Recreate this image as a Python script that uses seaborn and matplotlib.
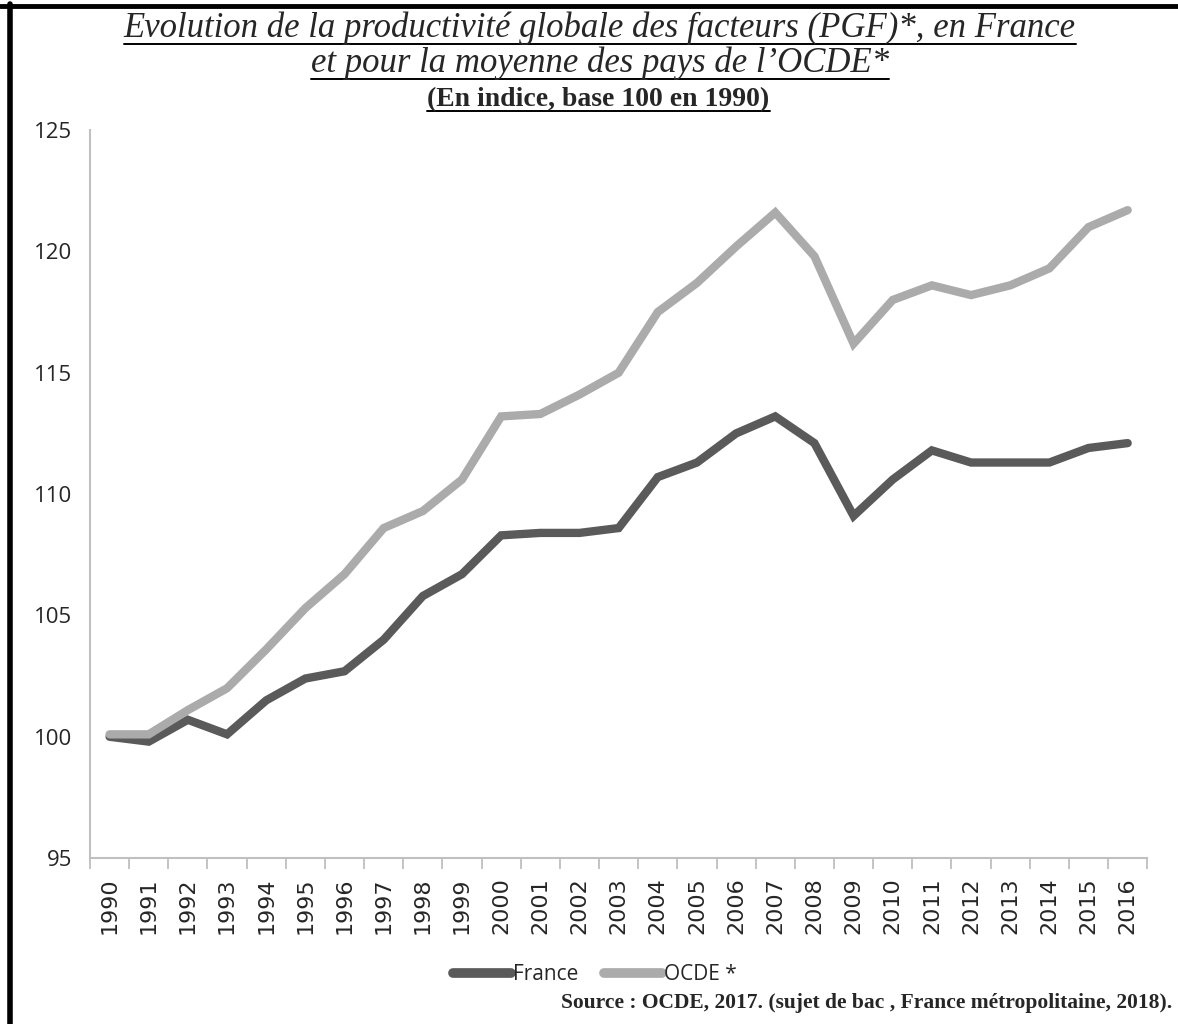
"""
Evolution de la PGF en France et pour la moyenne OCDE (base 100 en 1990).
"""

import numpy as np
import pandas as pd
import matplotlib

matplotlib.use("Agg")
import matplotlib.pyplot as plt
from matplotlib.lines import Line2D
import seaborn as sns

years = list(range(1990, 2017))
france = [100.0, 99.8, 100.7, 100.1, 101.5, 102.4, 102.7, 104.0, 105.8, 106.7,
          108.3, 108.4, 108.4, 108.6, 110.7, 111.3, 112.5, 113.2, 112.1, 109.1,
          110.6, 111.8, 111.3, 111.3, 111.3, 111.9, 112.1]
ocde = [100.1, 100.1, 101.1, 102.0, 103.6, 105.3, 106.7, 108.6, 109.3, 110.6,
        113.2, 113.3, 114.1, 115.0, 117.5, 118.7, 120.2, 121.6, 119.8, 116.2,
        118.0, 118.6, 118.2, 118.6, 119.3, 121.0, 121.7]
series_names = ["France", "OCDE *"]
series_colors = ["#5a5a5a", "#ababab"]
y_ticks = [95, 100, 105, 110, 115, 120, 125]

title_1 = "Evolution de la productivité globale des facteurs (PGF)*, en France"
title_2 = "et pour la moyenne des pays de l\u2019OCDE*"
title_3 = "(En indice, base 100 en 1990)"
source = "Source : OCDE, 2017. (sujet de bac , France métropolitaine, 2018)."

df = pd.DataFrame({
    "annee": years * 2,
    "indice": france + ocde,
    "serie": [series_names[0]] * len(years) + [series_names[1]] * len(years),
})

sns.set_style("white")
plt.rcParams["font.family"] = ["Open Sans", "DejaVu Sans"]

fig = plt.figure(figsize=(11.78, 10.24), dpi=100)
ax = fig.add_axes([0.0764, 0.162, 0.8975, 0.711])

sns.lineplot(
    data=df, x="annee", y="indice", hue="serie",
    hue_order=series_names, palette=dict(zip(series_names, series_colors)),
    linewidth=6, ax=ax, legend=False,
)
for ln in ax.lines:
    ln.set_solid_capstyle("round")
    ln.set_solid_joinstyle("miter")

ax.set_xlim(years[0] - 0.5, years[-1] + 0.5)
ax.set_ylim(y_ticks[0], y_ticks[-1])
ax.set_yticks(y_ticks)
ax.set_yticklabels([str(v) for v in y_ticks], fontsize=16)
ax.set_xticks(years)
ax.set_xticklabels([str(y) for y in years], rotation=90, fontsize=16,
                   family="DejaVu Sans")
ax.set_xticks(np.arange(years[0] - 0.5, years[-1] + 1), minor=True)
ax.tick_params(axis="x", which="major", length=0, pad=14)
ax.tick_params(axis="x", which="minor", length=8, color="#bfbfbf", width=1.3,
               direction="out", bottom=True)
ax.tick_params(axis="y", length=0, pad=13)
ax.set_xlabel("")
ax.set_ylabel("")
sns.despine(ax=ax)
for side in ["left", "bottom"]:
    ax.spines[side].set_color("#c0c0c0")
    ax.spines[side].set_linewidth(1.5)

# legend below the chart
handles = [Line2D([0], [0], color=c, lw=7, solid_capstyle="round")
           for c in series_colors]
fig.legend(handles, series_names, loc="center", bbox_to_anchor=(0.505, 0.048),
           ncol=2, frameon=False, fontsize=15, handlelength=2.8,
           handletextpad=0.1, columnspacing=1.2)

# titles, underlined
serif = ["Liberation Serif", "DejaVu Serif"]
t1 = fig.text(0.509, 0.972, title_1, ha="center", va="center", fontsize=25,
              style="italic", family=serif)
t2 = fig.text(0.509, 0.938, title_2, ha="center", va="center", fontsize=25,
              style="italic", family=serif)
t3 = fig.text(0.508, 0.903, title_3, ha="center", va="center", fontsize=20,
              weight="bold", family=serif)
fig.text(0.995, 0.0205, source, ha="right", va="center", fontsize=15.5,
         weight="bold", family=serif)

fig.canvas.draw()
renderer = fig.canvas.get_renderer()
for t in [t1, t2, t3]:
    bb = t.get_window_extent(renderer).transformed(fig.transFigure.inverted())
    y_line = bb.y0 + 0.001
    fig.add_artist(Line2D([bb.x0, bb.x1], [y_line, y_line], color="black",
                          lw=1.4, transform=fig.transFigure))

# black frame on top and left like the scanned document
fig.add_artist(Line2D([0.0, 1.0], [0.9945, 0.9945], color="black", lw=3.5,
                      transform=fig.transFigure))
fig.add_artist(Line2D([0.0088, 0.0088], [0.0, 0.9965], color="black", lw=4,
                      transform=fig.transFigure))

fig.savefig("out.png", dpi=100)
plt.close(fig)
